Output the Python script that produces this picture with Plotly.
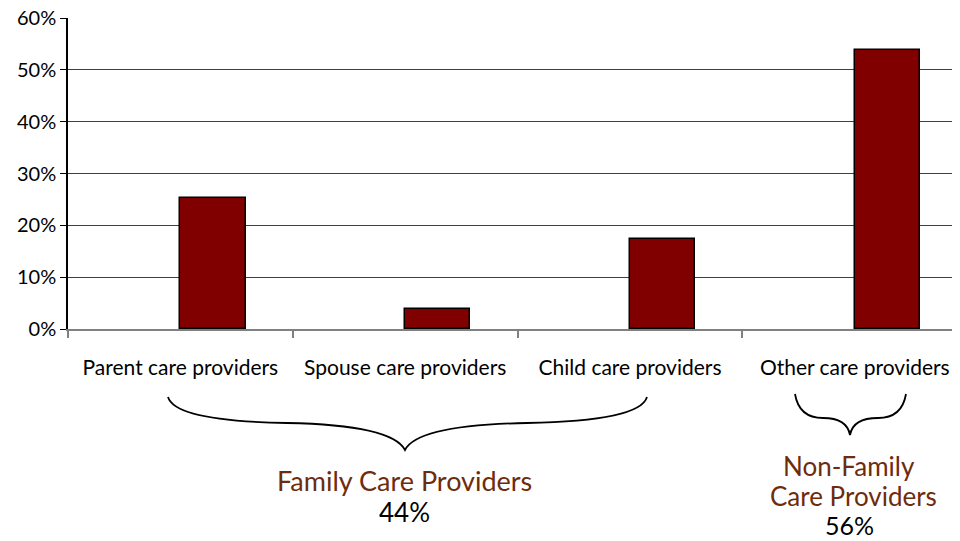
import plotly.graph_objects as go

categories = ["Parent care providers", "Spouse care providers", "Child care providers", "Other care providers"]
values = [0.252, 0.039, 0.173, 0.539]
y_ticks = [0, 0.1, 0.2, 0.3, 0.4, 0.5, 0.6]

family_label = ["Family Care Providers"]
nonfamily_label = ["Non-Family", "Care Providers"]
group_shares = ["44%", "56%"]

FONT = "Lato"
BROWN = "#6E2C0C"

# page body has an 8px default margin
OFF = 8
W, H = 960 - OFF, 541 - OFF
# plot area in page pixels
L, R, T, B = 68, 960, 18, 329

def px(x):
    return (x - L) / (R - L)

def py(y):
    return (B - y) / (B - T)

def path(pts):
    out = []
    for cmd, coords in pts:
        s = cmd
        s += " ".join(f"{px(x):.5f},{py(y):.5f}" for x, y in coords)
        out.append(s)
    return " ".join(out)

fig = go.Figure()
fig.add_trace(go.Bar(
    x=categories, y=values, offset=0, width=0.29,
    marker=dict(color="#800000", line=dict(color="black", width=1.5)),
    showlegend=False, hoverinfo="skip",
))

brace1 = path([
    ("M", [(168, 397)]),
    ("Q", [(175, 421), (287, 423)]),
    ("Q", [(392, 425), (405, 450)]),
    ("Q", [(418, 425), (527, 423)]),
    ("Q", [(640, 421), (647, 397)]),
])
brace2 = path([
    ("M", [(795, 394)]),
    ("Q", [(799, 418), (823, 418)]),
    ("Q", [(847, 418), (850, 435)]),
    ("Q", [(853, 418), (878, 418)]),
    ("Q", [(902, 418), (906, 394)]),
])

shapes = [
    dict(type="line", xref="paper", yref="y", x0=0, x1=1, y0=0.6, y1=0.6,
         line=dict(color="white", width=2), layer="between"),
    dict(type="path", xref="paper", yref="paper", path=brace1,
         line=dict(color="black", width=1.8)),
    dict(type="path", xref="paper", yref="paper", path=brace2,
         line=dict(color="black", width=1.8)),
]

def ann(x, y, text, color, size=26):
    return dict(x=px(x), y=py(y), xref="paper", yref="paper", text=text,
                xanchor="center", yanchor="middle", showarrow=False,
                font=dict(family=FONT, size=size, color=color))

annotations = [
    ann(404, 480, family_label[0], BROWN, 27),
    ann(404, 512, group_shares[0], "black", 26),
    ann(849, 466, nonfamily_label[0], BROWN, 26),
    ann(853, 496, nonfamily_label[1], BROWN, 26),
    ann(849, 525, group_shares[1], "black", 25),
]

fig.update_layout(
    width=W, height=H,
    margin=dict(l=L - OFF, r=960 - R, t=T - OFF, b=541 - B),
    plot_bgcolor="white", paper_bgcolor="white",
    font=dict(family=FONT, color="black"),
    shapes=shapes, annotations=annotations,
    xaxis=dict(type="category", range=[-0.5, 3.468], tickson="boundaries",
               ticks="outside", ticklen=7, tickcolor="#808080", tickwidth=1.5,
               showline=True, linecolor="#808080", linewidth=2,
               showgrid=False, tickfont=dict(size=21, color="black"),
               ticklabelstandoff=19, automargin=False,
               ticklabeloverflow="allow"),
    yaxis=dict(range=[0, 0.6], tickvals=y_ticks, tickformat=".0%",
               ticks="outside", ticklen=6, tickcolor="black",
               showline=True, linecolor="black", linewidth=1.5,
               showgrid=True, gridcolor="#404040", gridwidth=1,
               zeroline=False, tickfont=dict(size=20, color="black"),
               automargin=False, ticklabeloverflow="allow"),
    bargap=0,
)

fig.write_html("out.html")
